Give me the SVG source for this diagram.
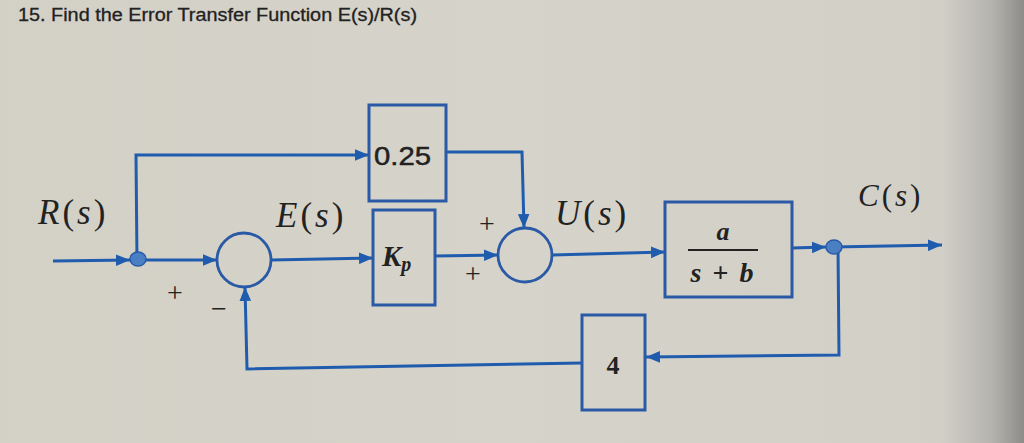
<svg xmlns="http://www.w3.org/2000/svg" width="1024" height="443" viewBox="0 0 1024 443">
<defs>
<linearGradient id="bg" x1="0" y1="0" x2="1" y2="0">
<stop offset="0" stop-color="#d3d0c6"/>
<stop offset="0.5" stop-color="#d6d3ca"/>
<stop offset="0.92" stop-color="#d2cfc7"/>
<stop offset="0.97" stop-color="#b4b2ad"/>
<stop offset="1" stop-color="#8d8c8a"/>
</linearGradient>
<marker id="ar" viewBox="0 0 12 10" refX="12" refY="5" markerWidth="14" markerHeight="12" markerUnits="userSpaceOnUse" orient="auto">
<path d="M0,0 L12,5 L0,10 z" fill="#1f5cae"/>
</marker>
<style>
.ln{fill:none;stroke:#1f5cae;stroke-width:3;stroke-linejoin:miter}
.bx{fill:none;stroke:#2a5aa6;stroke-width:3}
.sum{fill:none;stroke:#2a5aa6;stroke-width:2.8}
.dot{fill:#4a7fc4;stroke:#2a5aa6;stroke-width:1.5}
.m{font-family:"Liberation Serif","DejaVu Serif",serif;fill:#222}
.mi{font-style:italic}
.lab{letter-spacing:3px;font-size:35px}
.pm{font-family:"Liberation Serif","DejaVu Serif",serif;fill:#222;font-size:28px;text-anchor:middle}
.s{font-family:"Liberation Sans","Open Sans",sans-serif;fill:#222}
</style>
</defs>
<rect x="0" y="0" width="1024" height="443" fill="url(#bg)"/>
<text class="s" x="18" y="21" font-size="18" textLength="399" lengthAdjust="spacingAndGlyphs" stroke="#222" stroke-width="0.3">15. Find the Error Transfer Function E(s)/R(s)</text>

<g id="connectors">
<path class="ln" d="M53,261 L130,260" marker-end="url(#ar)"/>
<path class="ln" d="M137,260 L217,260" marker-end="url(#ar)"/>
<path class="ln" d="M137,260 L136,155 L369,155" marker-end="url(#ar)"/>
<path class="ln" d="M271,260 L373,258" marker-end="url(#ar)"/>
<path class="ln" d="M435,256 L498,255" marker-end="url(#ar)"/>
<path class="ln" d="M446,152 L522,152 L524,228" marker-end="url(#ar)"/>
<path class="ln" d="M552,255 L665,252" marker-end="url(#ar)"/>
<path class="ln" d="M792,248 L826,247" marker-end="url(#ar)"/>
<path class="ln" d="M833,247 L942,245" marker-end="url(#ar)"/>
<path class="ln" d="M838,247 L839,355 L646,357" marker-end="url(#ar)"/>
<path class="ln" d="M582,363 L247,369 L245,287" marker-end="url(#ar)"/>
</g>

<g id="junction1"><ellipse class="dot" cx="138" cy="259" rx="8" ry="7"/></g>
<g id="junction2"><ellipse class="dot" cx="834" cy="247" rx="8" ry="7"/></g>

<g id="sum1">
<circle class="sum" cx="244" cy="260" r="27"/>
<text class="pm" x="175" y="302">+</text>
<text class="pm" x="219" y="318">−</text>
</g>

<g id="sum2">
<circle class="sum" cx="525" cy="255" r="27"/>
<text class="pm" x="487" y="233">+</text>
<text class="pm" x="473" y="283">+</text>
</g>

<g id="label-R"><text class="m lab" x="38" y="224"><tspan class="mi">R</tspan>(<tspan class="mi">s</tspan>)</text></g>
<g id="label-E"><text class="m lab" x="276" y="227"><tspan class="mi">E</tspan>(<tspan class="mi">s</tspan>)</text></g>
<g id="label-U"><text class="m lab" x="555" y="225"><tspan class="mi">U</tspan>(<tspan class="mi">s</tspan>)</text></g>
<g id="label-C"><text class="m lab" x="858" y="206" style="font-size:31px"><tspan class="mi">C</tspan>(<tspan class="mi">s</tspan>)</text></g>

<g id="block-025">
<rect class="bx" x="369" y="105" width="77" height="96"/>
<text class="s" x="374" y="165" font-size="26" textLength="57" lengthAdjust="spacingAndGlyphs" stroke="#222" stroke-width="0.5">0.25</text>
</g>

<g id="block-Kp">
<rect class="bx" x="373" y="210" width="62" height="95"/>
<text class="m" x="382" y="266" font-size="29" font-weight="bold"><tspan class="mi">K</tspan><tspan class="mi" font-size="20" dy="5">p</tspan></text>
</g>

<g id="block-plant">
<rect class="bx" x="665" y="202" width="127" height="95"/>
<text class="m mi" x="723" y="240" font-size="26" font-weight="bold" text-anchor="middle">a</text>
<line x1="688" y1="250" x2="758" y2="250" stroke="#222" stroke-width="2"/>
<text class="m" x="723" y="282" font-size="28" font-weight="bold" text-anchor="middle" letter-spacing="2"><tspan class="mi">s</tspan> + <tspan class="mi">b</tspan></text>
</g>

<g id="block-4">
<rect class="bx" x="582" y="315" width="63" height="95"/>
<text class="m" x="613" y="374" font-size="26" text-anchor="middle" font-weight="bold">4</text>
</g>
</svg>
